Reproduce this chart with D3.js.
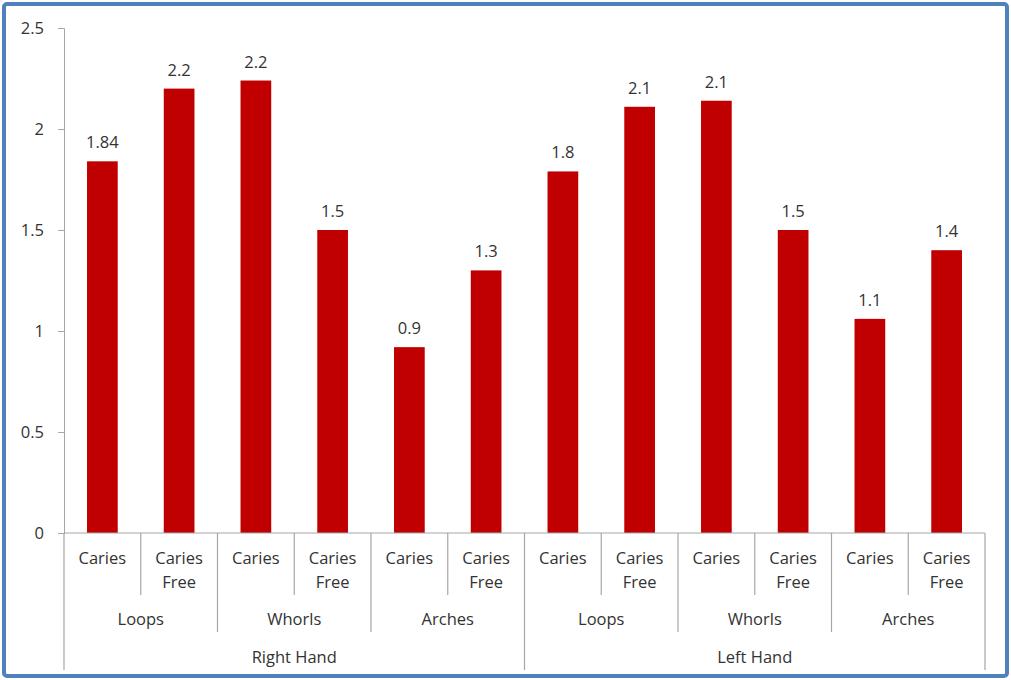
<!DOCTYPE html>
<html><head><meta charset="utf-8">
<script src="https://cdn.jsdelivr.net/npm/d3@7"></script>
<style>body{margin:0;background:#fff;} svg{display:block;}</style>
</head><body>
<svg id="c" width="1011" height="680"></svg>
<script>
const hands = ["Right Hand", "Left Hand"];
const patterns = ["Loops", "Whorls", "Arches"];
const groups = ["Caries", "Caries Free"];
const values = [1.84, 2.2, 2.24, 1.5, 0.92, 1.3, 1.79, 2.11, 2.14, 1.5, 1.06, 1.4];
const labels = ["1.84", "2.2", "2.2", "1.5", "0.9", "1.3", "1.8", "2.1", "2.1", "1.5", "1.1", "1.4"];
const yTicks = [0, 0.5, 1, 1.5, 2, 2.5];

const rows = [];
hands.forEach(h => patterns.forEach(p => groups.forEach(g => rows.push({h, p, g}))));
rows.forEach((r, i) => { r.v = values[i]; r.lab = labels[i]; r.key = i; });

const svg = d3.select("#c");
const font = "'Open Sans', 'Noto Sans', sans-serif";
const fs = 16.5;
const txt = "#333333";
const axisCol = "#a6a6a6";

svg.append("rect").attr("x", 4).attr("y", 4).attr("width", 1003).attr("height", 672)
  .attr("rx", 3).attr("fill", "#fff").attr("stroke", "#4f81bd").attr("stroke-width", 4);

const x0 = 64, x1 = 985, y0 = 533, yTop = 28;
const x = d3.scaleBand().domain(rows.map(r => r.key)).range([x0, x1]).paddingInner(0.6).paddingOuter(0.3);
const y = d3.scaleLinear().domain([0, 2.5]).range([y0, yTop]);
const step = (x1 - x0) / rows.length;

// y axis
const ya = svg.append("g").attr("transform", `translate(${x0},0)`)
  .call(d3.axisLeft(y).tickValues(yTicks).tickSize(6).tickPadding(14).tickFormat(d => d));
ya.select(".domain").attr("stroke", axisCol);
ya.selectAll(".tick line").attr("stroke", axisCol);
ya.selectAll(".tick text").attr("font-family", font).attr("font-size", fs).attr("fill", txt);

// bars
svg.append("g").selectAll("rect").data(rows).join("rect")
  .attr("x", d => x(d.key)).attr("width", x.bandwidth())
  .attr("y", d => y(d.v)).attr("height", d => y(0) - y(d.v))
  .attr("fill", "#c00000");

svg.append("g").selectAll("text").data(rows).join("text")
  .attr("x", d => x(d.key) + x.bandwidth() / 2).attr("y", d => y(d.v) - 13)
  .attr("text-anchor", "middle").attr("font-family", font).attr("font-size", fs).attr("fill", txt)
  .text(d => d.lab);

// x axis line
svg.append("line").attr("x1", x0).attr("x2", x1).attr("y1", y0).attr("y2", y0).attr("stroke", axisCol);

// separators
const sep = svg.append("g").attr("stroke", axisCol).attr("stroke-width", 1.2);
for (let i = 0; i <= rows.length; i++) {
  let len;
  if (i % 6 === 0) len = 670;
  else if (i % 2 === 0) len = 632;
  else len = 595;
  const xx = x0 + i * step;
  sep.append("line").attr("x1", xx).attr("x2", xx).attr("y1", y0).attr("y2", len);
}

// category labels
const lab = svg.append("g").attr("font-family", font).attr("font-size", fs).attr("fill", txt).attr("text-anchor", "middle");
rows.forEach((r, i) => {
  const cx = x0 + (i + 0.5) * step;
  const parts = r.g.split(" ");
  parts.forEach((p, j) => lab.append("text").attr("x", cx).attr("y", 564 + j * 24).text(p));
});
for (let k = 0; k < hands.length * patterns.length; k++) {
  const cx = x0 + (k * 2 + 1) * step;
  lab.append("text").attr("x", cx).attr("y", 625).text(patterns[k % 3]);
}
hands.forEach((h, k) => {
  const cx = x0 + (k * 6 + 3) * step;
  lab.append("text").attr("x", cx).attr("y", 663).text(h);
});
</script>
</body></html>
